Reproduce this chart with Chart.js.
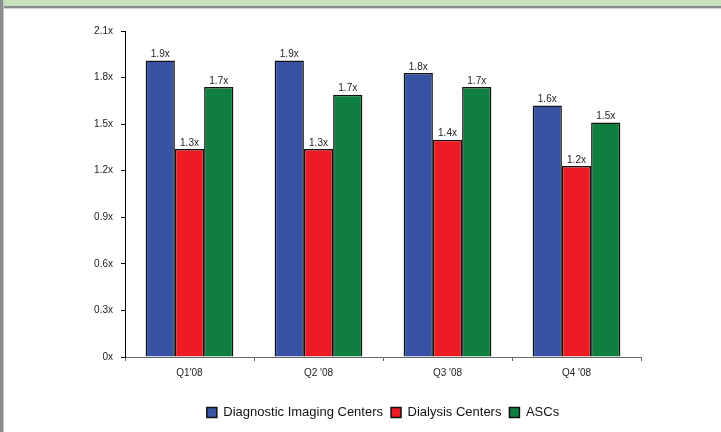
<!DOCTYPE html>
<html>
<head>
<meta charset="utf-8">
<script src="https://cdn.jsdelivr.net/npm/chart.js@4/dist/chart.umd.min.js"></script>
<style>
  html, body { margin: 0; padding: 0; background: #ffffff; }
  #wrap { position: relative; width: 721px; height: 432px; overflow: hidden; background: #ffffff; }
  #band { position: absolute; left: 0; top: 0; width: 721px; height: 6px; background: #c8e1bf; }
  #bandLine { position: absolute; left: 0; top: 6px; width: 721px; height: 2px; background: #8c8c8c; }
  #bandShade { position: absolute; left: 0; top: 8px; width: 721px; height: 1px; background: #d4d4d4; }
  #leftEdge { position: absolute; left: 0; top: 0; width: 3px; height: 432px; background: #8c8c8c; }
  #leftShade { position: absolute; left: 3px; top: 0; width: 1px; height: 432px; background: #c4c4c4; }
  canvas { position: absolute; left: 0; top: 0; }
</style>
</head>
<body>
<div id="wrap">
  <div id="band"></div>
  <div id="bandLine"></div>
  <div id="bandShade"></div>
  <div id="leftEdge"></div>
  <div id="leftShade"></div>
  <canvas id="chart" width="721" height="432"></canvas>
</div>
<script>
// Quarterly multiples by facility type
const quarters = ["Q1'08", "Q2 '08", "Q3 '08", "Q4 '08"];
const imagingCenters = [1.91, 1.91, 1.83, 1.62];
const dialysisCenters = [1.34, 1.34, 1.40, 1.23];
const ascs = [1.74, 1.69, 1.74, 1.51];
const yTicks = [0, 0.3, 0.6, 0.9, 1.2, 1.5, 1.8, 2.1];

const FONT = "'Liberation Sans', Arial, sans-serif";

function fmtMultiple(v) {
  return v === 0 ? '0x' : v.toFixed(1) + 'x';
}

// Writes each bar's value just above its top edge
const valueLabels = {
  id: 'valueLabels',
  afterDatasetsDraw(chart) {
    const ctx = chart.ctx;
    ctx.save();
    ctx.font = '10px ' + FONT;
    ctx.fillStyle = '#222222';
    ctx.textAlign = 'center';
    ctx.textBaseline = 'bottom';
    chart.data.datasets.forEach((ds, di) => {
      const meta = chart.getDatasetMeta(di);
      meta.data.forEach((bar, i) => {
        ctx.fillText(fmtMultiple(ds.data[i]), bar.x, bar.y - 1);
      });
    });
    ctx.restore();
  }
};

new Chart(document.getElementById('chart'), {
  type: 'bar',
  data: {
    labels: quarters,
    datasets: [
      { label: 'Diagnostic Imaging Centers', data: imagingCenters, backgroundColor: '#3953a4' },
      { label: 'Dialysis Centers', data: dialysisCenters, backgroundColor: '#ed1c24' },
      { label: 'ASCs', data: ascs, backgroundColor: '#0f7f3f' }
    ]
  },
  options: {
    responsive: false,
    animation: false,
    datasets: {
      bar: {
        categoryPercentage: 0.68,
        barPercentage: 1.0,
        borderColor: '#111111',
        borderWidth: 1.5
      }
    },
    layout: { padding: { left: 45, right: 0, top: 31, bottom: 3 } },
    plugins: {
      legend: {
        position: 'bottom',
        labels: {
          font: { family: FONT, size: 13 },
          color: '#111111',
          boxWidth: 10,
          boxHeight: 10,
          padding: 8
        }
      },
      tooltip: { enabled: false }
    },
    scales: {
      x: {
        grid: { display: true, drawOnChartArea: false, drawTicks: true, tickLength: 4, offset: true, color: '#666666' },
        border: { display: true, color: '#666666', width: 1 },
        ticks: { font: { family: FONT, size: 10 }, color: '#222222', padding: 6, maxRotation: 0 },
        afterFit(scale) { scale.height = 41; }
      },
      y: {
        min: 0,
        max: 2.1,
        afterBuildTicks(scale) { scale.ticks = yTicks.map(v => ({ value: v })); },
        grid: { display: true, drawOnChartArea: false, drawTicks: true, tickLength: 4, color: '#000000' },
        border: { display: true, color: '#000000', width: 1 },
        ticks: { font: { family: FONT, size: 10 }, color: '#222222', padding: 8, callback: v => fmtMultiple(v) },
        afterFit(scale) { scale.width = 80; }
      },
      yRight: {
        position: 'right',
        display: true,
        grid: { display: false },
        border: { display: false },
        ticks: { display: false },
        afterFit(scale) { scale.width = 80; }
      }
    }
  },
  plugins: [valueLabels]
});
</script>
</body>
</html>
